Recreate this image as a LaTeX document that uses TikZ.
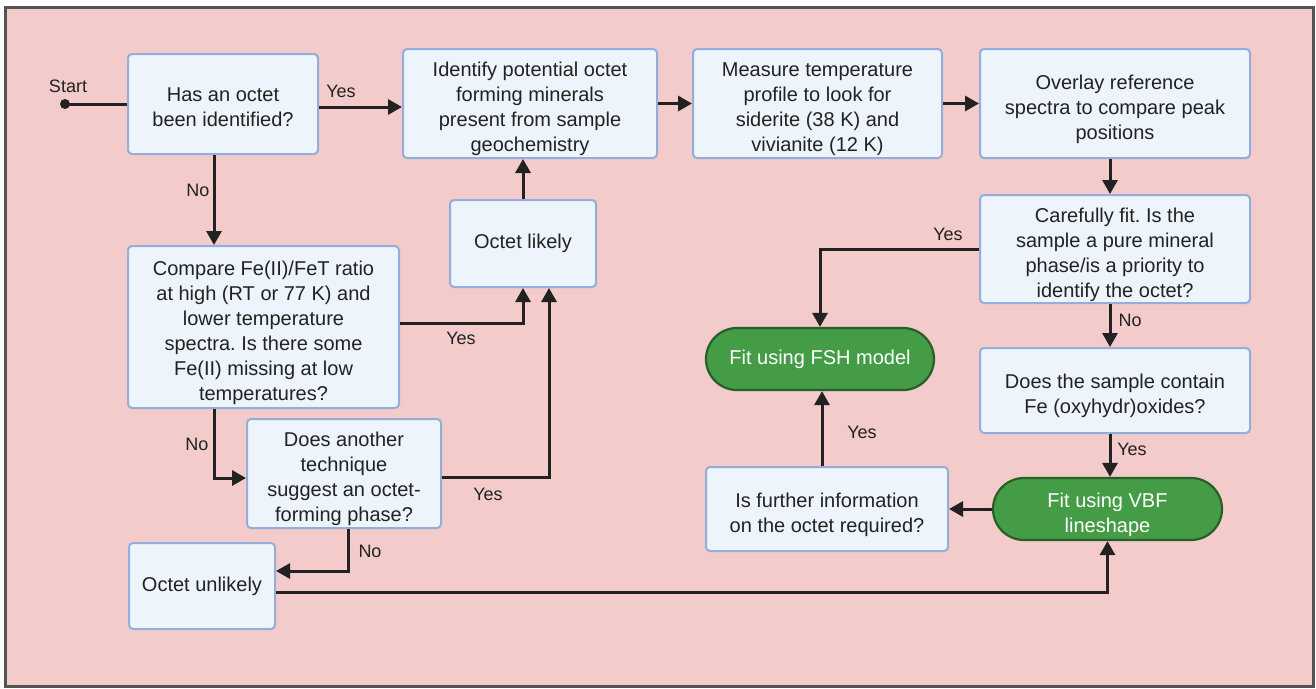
\documentclass[tikz,border=0pt]{standalone}
\usepackage{fontspec}
\setmainfont{Liberation Sans}
\frenchspacing
\usetikzlibrary{arrows.meta,calc}
\definecolor{bgpink}{HTML}{F2CBCA}
\definecolor{frameg}{HTML}{545454}
\definecolor{boxfill}{HTML}{EEF4FB}
\definecolor{boxline}{HTML}{93AEDA}
\definecolor{gfill}{HTML}{449D46}
\definecolor{gline}{HTML}{275E29}
\definecolor{ink}{HTML}{222222}
\newcommand\tup{\rule{0pt}{26pt}}
\begin{document}
\begin{tikzpicture}[x=1pt,y=-1pt,
  box/.style={draw=boxline, line width=2pt, fill=boxfill, rounded corners=4pt, inner sep=0pt,
    align=center, text=ink, font=\fontsize{20}{25}\selectfont},
  gbox/.style={draw=gline, line width=2.2pt, fill=gfill, rounded corners=31pt, inner sep=0pt,
    align=center, text=white, font=\fontsize{20}{25}\selectfont},
  arr/.style={draw=ink, line width=3pt, -{Triangle[length=14pt,width=15pt]}},
  ln/.style={draw=ink, line width=3pt},
  lab/.style={text=ink, font=\fontsize{18}{20}\selectfont, inner sep=0pt}]
\useasboundingbox (0,0) rectangle (1316,688);
\fill[white] (0,0) rectangle (1316,688);
\draw[frameg, line width=3pt, fill=bgpink] (5,7) rectangle (1313,686);

\node[box, minimum width=190pt, minimum height=100pt] (n1) at (223,104) {\rule{0pt}{20pt}Has an octet\\been identified?};
\node[box, minimum width=254pt, minimum height=109pt] (n2) at (530,103.5) {\tup Identify potential octet\\forming minerals\\present from sample\\geochemistry};
\node[box, minimum width=249pt, minimum height=109pt] (n3) at (817.5,103.5) {\tup Measure temperature\\profile to look for\\siderite (38 K) and\\vivianite (12 K)};
\node[box, minimum width=270pt, minimum height=109pt] (n4) at (1115,103.5) {\tup Overlay reference\\spectra to compare peak\\positions};
\node[box, minimum width=270pt, minimum height=108pt] (n5) at (1115,249) {\tup Carefully fit. Is the\\sample a pure mineral\\phase/is a priority to\\identify the octet?};
\node[box, minimum width=270pt, minimum height=85pt] (n6) at (1115,390.5) {\tup Does the sample contain\\Fe (oxyhydr)oxides?};
\node[gbox, minimum width=229pt, minimum height=62pt] (n7) at (1107.5,509) {\tup Fit using VBF\\lineshape};
\node[box, minimum width=242pt, minimum height=84pt] (n8) at (827,509) {\tup Is further information\\on the octet required?};
\node[gbox, minimum width=228pt, minimum height=62pt] (n9) at (820,359) {Fit using FSH model};
\node[box, minimum width=146pt, minimum height=87pt] (n10) at (523,243.5) {Octet likely};
\node[box, minimum width=271pt, minimum height=162pt] (n11) at (263.5,327) {\tup Compare Fe(II)/FeT ratio\\at high (RT or 77 K) and\\lower temperature\\spectra. Is there some\\Fe(II) missing at low\\temperatures?};
\node[box, minimum width=194pt, minimum height=109pt] (n12) at (344,473.5) {\tup Does another\\technique\\suggest an octet-\\forming phase?};
\node[box, minimum width=146pt, minimum height=86pt] (n13) at (202,586) {Octet unlikely};

\coordinate (start) at (65,104);
\fill[ink] (start) circle (5pt);
\node[lab] (lstart) at (68,86) {Start};
\draw[ln] (start) -- (n1.west);

\draw[arr] ([yshift=-3pt]n1.east) -- ([yshift=-3pt]n1.east -| n2.west);
\draw[arr] (n2.east) -- (n3.west);
\draw[arr] (n3.east) -- (n4.west);
\draw[arr] ([xshift=-5pt]n4.south) -- ([xshift=-5pt]n5.north);
\draw[arr] (n5.west) -| (n9.north);
\draw[arr] ([xshift=-5pt]n5.south) -- ([xshift=-5pt]n6.north);
\draw[arr] ([xshift=-5pt]n6.south) -- ([xshift=-5pt]n6.south |- n7.north);
\draw[arr] (n7.west) -- (n7.west -| n8.east);
\draw[arr] ([xshift=-5pt]n8.north) -- ([xshift=-5pt]n8.north |- n9.south);
\draw[arr] ([xshift=-9pt]n1.south) -- ([xshift=-9pt]n1.south |- n11.north);
\draw[arr] ([yshift=4pt]n11.east) -| (n10.south);
\draw[arr] ([yshift=-3.5pt]n12.east) -| ($(n10.south)+(26,0)$);
\draw[arr] (n10.north) -- (n10.north |- n2.south);
\draw[arr] ([xshift=-49.5pt]n11.south) |- ([yshift=-4.5pt]n12.west);
\draw[arr] ([xshift=4pt]n12.south) |- ([yshift=15pt]n13.east);
\draw[arr] ([yshift=-6pt]n13.east) -| (n7.south);

\node[lab] (l1) at (341,91) {Yes};
\node[lab] (l2) at (198,190) {No};
\node[lab] (l3) at (948,234) {Yes};
\node[lab] (l4) at (1130,320) {No};
\node[lab] (l5) at (1132,449) {Yes};
\node[lab] (l6) at (862,432) {Yes};
\node[lab] (l7) at (461,338) {Yes};
\node[lab] (l8) at (488,494) {Yes};
\node[lab] (l9) at (197,444) {No};
\node[lab] (l10) at (370,551) {No};
\end{tikzpicture}
\end{document}
